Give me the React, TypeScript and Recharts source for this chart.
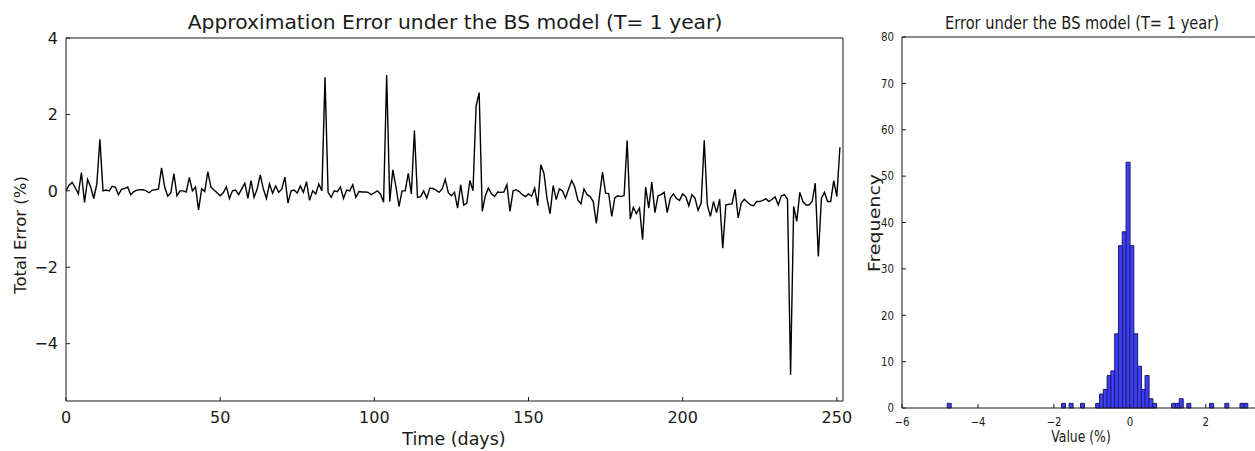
import { Bar, BarChart, Line, LineChart, XAxis, YAxis } from "recharts";

// Daily total error (%) of the approximation, T = 1 year, 252 trading days.
const errorPct = [
  0.0, 0.15, 0.22, 0.08, -0.08, 0.48, -0.3, 0.3, 0.1, -0.2,
  0.18, 1.35, 0.0, 0.02, 0.0, 0.12, 0.1, -0.1, 0.04, 0.06,
  0.1, -0.1, -0.02, 0.02, 0.03, 0.03, 0.0, -0.05, 0.02, 0.03,
  0.05, 0.6, 0.1, -0.14, -0.05, 0.45, -0.13, 0.0, 0.0, -0.03,
  0.35, 0.0, 0.1, -0.5, 0.05, -0.02, 0.5, 0.1, 0.02, -0.05,
  -0.13, -0.05, 0.11, -0.2, 0.0, 0.02, -0.1, 0.05, 0.2, -0.2,
  0.27, -0.17, 0.05, 0.42, 0.05, -0.2, 0.18, -0.06, 0.13, -0.04,
  0.05, 0.36, -0.32, 0.0, 0.02, -0.06, 0.13, -0.04, 0.24, -0.25,
  0.0, -0.08, 0.18, 0.0, 2.97, -0.04, -0.17, 0.0, -0.02, 0.1,
  -0.2, 0.02, 0.0, 0.16, -0.17, -0.02, -0.03, -0.03, -0.04, -0.1,
  -0.05, 0.0, -0.08, -0.3, 3.03, -0.28, 0.55, 0.11, -0.41, 0.0,
  0.0, 0.46, -0.08, 1.58, -0.17, -0.15, 0.0, -0.19, 0.07, 0.06,
  0.02, -0.04, 0.05, 0.3, -0.05, -0.13, -0.04, -0.45, 0.16, -0.37,
  -0.32, 0.27, 0.0, 2.22, 2.57, -0.54, -0.13, 0.07, -0.08, -0.15,
  -0.03, -0.04, -0.03, 0.16, -0.54, 0.0, 0.03, -0.02, -0.1, -0.15,
  -0.08, -0.14, 0.07, -0.39, 0.68, 0.46, -0.2, -0.6, 0.14, -0.23,
  0.05, 0.0, -0.19, 0.05, 0.27, 0.1, -0.24, -0.34, 0.05, -0.1,
  -0.15, -0.28, -0.85, -0.15, 0.49, -0.06, -0.07, -0.67, -0.18, -0.13,
  -0.15, -0.12, 1.32, -0.74, -0.43, -0.6, -0.45, -1.28, 0.1, -0.45,
  0.23, -0.57, -0.13, -0.1, -0.04, -0.57, -0.19, -0.08, -0.2, -0.25,
  -0.08, -0.15, -0.39, -0.1, -0.19, -0.51, -0.32, 1.32, -0.37, -0.67,
  -0.28, -0.57, -0.22, -1.5, -0.37, -0.35, -0.34, 0.04, -0.71, -0.32,
  -0.22, -0.3, -0.37, -0.39, -0.28, -0.28, -0.25, -0.21, -0.28, -0.22,
  -0.16, -0.37, -0.13, -0.1, -0.22, -4.81, -0.41, -0.8, -0.04, -0.28,
  -0.37, -0.37, -0.28, 0.2, -1.72, -0.19, -0.04, -0.28, -0.28, 0.27,
  -0.15, 1.14,
];
const dayTicks = [0, 50, 100, 150, 200, 250];
const errorTicks = [-4, -2, 0, 2, 4];

// Histogram of the same errors (non-empty bins only, bin width 0.1).
const binCenters = [
  -4.76, -1.75, -1.55, -1.25, -0.85, -0.75, -0.65, -0.55, -0.45, -0.35,
  -0.25, -0.15, -0.05, 0.05, 0.15, 0.25, 0.35, 0.45, 0.55, 0.65,
  1.15, 1.25, 1.35, 1.55, 2.15, 2.55, 2.95, 3.05,
];
const binCounts = [
  1, 1, 1, 1, 1, 3, 4, 7, 8, 16,
  35, 38, 53, 35, 16, 9, 4, 7, 2, 1,
  1, 1, 2, 1, 1, 1, 1, 1,
];
const valueTicks = [-6, -4, -2, 0, 2];
const freqTicks = [0, 10, 20, 30, 40, 50, 60, 70, 80];

const lineData = errorPct.map((v, i) => ({ day: i, error: v }));
const histData = binCenters.map((c, i) => ({ center: c, count: binCounts[i] }));

const FONT = "'DejaVu Sans', sans-serif";
const INK = "#1a1a1a";
const GAP = 8;
const TICK_LEN = 4;

const fmt = (v: number) => (v < 0 ? `\u2212${Math.abs(v)}` : `${v}`);

function BottomTick(props: any) {
  const { x, y, payload, fs, sx } = props;
  const axisY = y - GAP;
  return (
    <g>
      <line x1={x} x2={x} y1={axisY} y2={axisY - TICK_LEN} stroke={INK} />
      <text
        transform={`translate(${x},${y}) scale(${sx},1)`}
        textAnchor="middle"
        dy="0.85em"
        fontSize={fs}
        fontFamily={FONT}
        fill={INK}
      >
        {fmt(payload.value)}
      </text>
    </g>
  );
}

function LeftTick(props: any) {
  const { x, y, payload, fs, sx } = props;
  const axisX = x + GAP;
  return (
    <g>
      <line x1={axisX} x2={axisX + TICK_LEN} y1={y} y2={y} stroke={INK} />
      <text
        transform={`translate(${x},${y}) scale(${sx},1)`}
        textAnchor="end"
        dy="0.36em"
        fontSize={fs}
        fontFamily={FONT}
        fill={INK}
      >
        {fmt(payload.value)}
      </text>
    </g>
  );
}

// sx squeezes along the screen's x direction, also for rotated labels
function Label(props: { x: number; y: number; size: number; rotate?: boolean; sx?: number; children: string }) {
  const { x, y, size, rotate, sx = 1, children } = props;
  return (
    <div
      style={{
        position: "absolute",
        left: x,
        top: y,
        transform: `translate(-50%,-50%) scaleX(${sx}) ${rotate ? "rotate(-90deg)" : ""}`,
        whiteSpace: "nowrap",
        lineHeight: 1,
        fontSize: size,
        fontFamily: FONT,
        color: INK,
      }}
    >
      {children}
    </div>
  );
}

export default function App() {
  return (
    <div
      style={{
        position: "absolute",
        left: 0,
        top: 0,
        width: 1255,
        height: 451,
        overflow: "hidden",
        background: "#fff",
      }}
    >
      <div style={{ position: "absolute", left: 0, top: 0 }}>
        <LineChart
          width={860}
          height={451}
          data={lineData}
          margin={{ top: 38, right: 17, bottom: 20, left: 26 }}
        >
          <XAxis
            dataKey="day"
            type="number"
            domain={[0, 252]}
            ticks={dayTicks}
            interval={0}
            height={30}
            tickSize={0}
            tickMargin={GAP}
            tickLine={false}
            axisLine={{ stroke: INK }}
            tick={(p: any) => <BottomTick {...p} fs={16} sx={1} />}
          />
          <XAxis
            xAxisId="top"
            orientation="top"
            type="number"
            domain={[0, 252]}
            ticks={dayTicks}
            interval={0}
            mirror
            tick={false}
            tickSize={TICK_LEN}
            tickLine={{ stroke: INK }}
            axisLine={{ stroke: INK }}
          />
          <YAxis
            type="number"
            domain={[-5.5, 4]}
            ticks={errorTicks}
            interval={0}
            allowDataOverflow
            width={40}
            tickSize={0}
            tickMargin={GAP}
            tickLine={false}
            axisLine={{ stroke: INK }}
            tick={(p: any) => <LeftTick {...p} fs={16} sx={1} />}
          />
          <YAxis
            yAxisId="right"
            orientation="right"
            type="number"
            domain={[-5.5, 4]}
            ticks={errorTicks}
            interval={0}
            mirror
            tick={false}
            tickSize={TICK_LEN}
            tickLine={{ stroke: INK }}
            axisLine={{ stroke: INK }}
          />
          <Line
            type="linear"
            dataKey="error"
            stroke="#000"
            strokeWidth={1.4}
            dot={false}
            isAnimationActive={false}
          />
        </LineChart>
      </div>

      <div style={{ position: "absolute", left: 850, top: 0 }}>
        <BarChart
          width={409}
          height={451}
          data={histData}
          margin={{ top: 37, right: 0, bottom: 18, left: 12 }}
          barCategoryGap={0}
          barGap={0}
        >
          <XAxis
            dataKey="center"
            type="number"
            domain={[-6, 3.4]}
            allowDataOverflow
            ticks={valueTicks}
            interval={0}
            height={25}
            tickSize={0}
            tickMargin={GAP}
            tickLine={false}
            axisLine={{ stroke: INK }}
            tick={(p: any) => <BottomTick {...p} fs={12} sx={0.85} />}
          />
          <XAxis
            xAxisId="top"
            orientation="top"
            type="number"
            domain={[-6, 3.4]}
            allowDataOverflow
            ticks={valueTicks}
            interval={0}
            mirror
            tick={false}
            tickSize={TICK_LEN}
            tickLine={{ stroke: INK }}
            axisLine={{ stroke: INK }}
          />
          <YAxis
            type="number"
            domain={[0, 80]}
            ticks={freqTicks}
            interval={0}
            width={40}
            tickSize={0}
            tickMargin={GAP}
            tickLine={false}
            axisLine={{ stroke: INK }}
            tick={(p: any) => <LeftTick {...p} fs={12} sx={0.85} />}
          />
          <Bar
            dataKey="count"
            fill="#3d3dff"
            stroke="#1c1c60"
            strokeWidth={1}
            isAnimationActive={false}
          />
        </BarChart>
      </div>

      <Label x={455} y={22} size={20.3}>Approximation Error under the BS model (T= 1 year)</Label>
      <Label x={21} y={235} size={16.5} rotate>Total Error (%)</Label>
      <Label x={454} y={440} size={17.5}>Time (days)</Label>

      <Label x={1082} y={23} size={17} sx={0.86}>Error under the BS model (T= 1 year)</Label>
      <Label x={875} y={223} size={19} sx={0.8} rotate>Frequency</Label>
      <Label x={1081} y={438} size={15.5} sx={0.8}>Value (%)</Label>
    </div>
  );
}
